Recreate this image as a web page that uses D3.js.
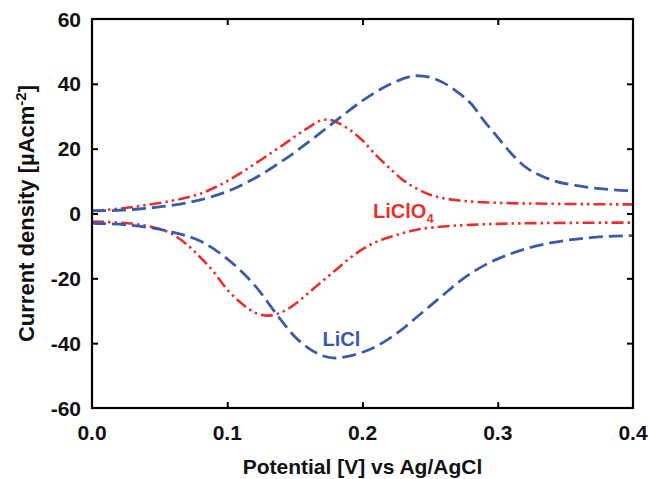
<!DOCTYPE html>
<html>
<head>
<meta charset="utf-8">
<script src="https://cdn.jsdelivr.net/npm/d3@7"></script>
<style>
  html, body { margin: 0; padding: 0; background: #fff; }
  svg { display: block; font-family: "Liberation Sans", Arial, sans-serif; }
</style>
</head>
<body>
<svg id="chart" width="648" height="479"></svg>
<script>
// Cyclic voltammograms: potential (V vs Ag/AgCl) and current density (µA cm^-2)
const xTicks = [0.0, 0.1, 0.2, 0.3, 0.4];
const yTicks = [-60, -40, -20, 0, 20, 40, 60];

// LiCl, anodic (upper) branch
const liclUpperV = [0.00, 0.02, 0.04, 0.06, 0.08, 0.10, 0.12, 0.14, 0.16, 0.18, 0.20, 0.22, 0.24, 0.25, 0.26, 0.27, 0.28, 0.29, 0.30, 0.31, 0.32, 0.33, 0.34, 0.36, 0.38, 0.40];
const liclUpperI = [0.8, 1.0, 1.6, 2.6, 4.2, 6.8, 10.8, 16.0, 22.0, 28.5, 34.8, 39.8, 42.5, 42.0, 40.3, 37.5, 34.0, 28.5, 23.5, 18.5, 14.5, 12.0, 10.3, 8.5, 7.5, 7.0];
// LiCl, cathodic (lower) branch
const liclLowerV = [0.00, 0.02, 0.04, 0.06, 0.08, 0.10, 0.12, 0.14, 0.15, 0.16, 0.17, 0.18, 0.19, 0.20, 0.21, 0.22, 0.23, 0.24, 0.25, 0.26, 0.27, 0.28, 0.29, 0.30, 0.32, 0.34, 0.36, 0.38, 0.40];
const liclLowerI = [-3.0, -3.3, -4.2, -5.8, -8.5, -14.0, -22.0, -33.0, -38.0, -41.5, -43.8, -44.6, -44.0, -42.8, -41.0, -38.5, -35.5, -32.0, -28.5, -25.0, -21.5, -18.5, -16.0, -14.0, -11.0, -9.0, -7.8, -7.1, -6.8];

// LiClO4, anodic (upper) branch
const perUpperV = [0.00, 0.02, 0.04, 0.06, 0.08, 0.10, 0.12, 0.14, 0.16, 0.17, 0.175, 0.18, 0.19, 0.20, 0.21, 0.22, 0.23, 0.24, 0.25, 0.26, 0.27, 0.28, 0.30, 0.34, 0.40];
const perUpperI = [0.8, 1.5, 2.6, 4.0, 6.1, 10.0, 15.2, 20.8, 26.5, 28.8, 29.0, 28.3, 26.0, 22.5, 18.0, 14.0, 10.3, 7.7, 5.8, 4.7, 4.1, 3.7, 3.3, 3.0, 2.8];
// LiClO4, cathodic (lower) branch
const perLowerV = [0.00, 0.02, 0.04, 0.06, 0.07, 0.08, 0.09, 0.10, 0.11, 0.12, 0.13, 0.14, 0.15, 0.16, 0.17, 0.18, 0.19, 0.20, 0.21, 0.22, 0.23, 0.24, 0.26, 0.28, 0.30, 0.35, 0.40];
const perLowerI = [-2.5, -2.8, -3.8, -6.5, -9.5, -13.5, -18.0, -23.5, -27.5, -30.5, -31.5, -30.5, -28.0, -24.5, -21.0, -17.5, -14.0, -11.0, -8.8, -7.3, -6.0, -5.0, -4.0, -3.5, -3.2, -2.9, -2.8];

const seriesNames = ["LiClO", "LiCl"];
const seriesColors = ["#e8312c", "#3a5ba8"];

const svg = d3.select("#chart");
const margin = { left: 92, right: 15, top: 19, bottom: 71 };
const W = 648, H = 479;

const x = d3.scaleLinear().domain([0, 0.4]).range([margin.left, W - margin.right]);
const y = d3.scaleLinear().domain([-60, 60]).range([H - margin.bottom, margin.top]);

const zip = (vs, is) => vs.map((v, k) => [v, is[k]]);
const line = d3.line().x(d => x(d[0])).y(d => y(d[1])).curve(d3.curveMonotoneX);

svg.append("clipPath").attr("id", "plot-area")
  .append("rect")
  .attr("x", x(0)).attr("y", y(60))
  .attr("width", x(0.4) - x(0)).attr("height", y(-60) - y(60));

const curves = svg.append("g").attr("clip-path", "url(#plot-area)");

// LiClO4: dash-dot-dot
[zip(perUpperV, perUpperI), zip(perLowerV, perLowerI)].forEach(d => {
  curves.append("path").datum(d)
    .attr("d", line)
    .attr("fill", "none")
    .attr("stroke", seriesColors[0])
    .attr("stroke-width", 2.6)
    .attr("stroke-dasharray", "12,4,2.5,4,2.5,4");
});
// LiCl: dashed
[zip(liclUpperV, liclUpperI), zip(liclLowerV, liclLowerI)].forEach(d => {
  curves.append("path").datum(d)
    .attr("d", line)
    .attr("fill", "none")
    .attr("stroke", seriesColors[1])
    .attr("stroke-width", 2.8)
    .attr("stroke-dasharray", "14,6");
});

// Frame with inward ticks on all four sides
const tickLen = 6;
const innerX = xTicks.filter(t => t > 0 && t < 0.4);
const innerY = yTicks.filter(t => t > -60 && t < 60);

const bottomAxis = d3.axisBottom(x).tickValues(innerX).tickSize(-tickLen).tickFormat("");
const topAxis = d3.axisTop(x).tickValues(innerX).tickSize(-tickLen).tickFormat("");
const leftAxis = d3.axisLeft(y).tickValues(innerY).tickSize(-tickLen).tickFormat("");
const rightAxis = d3.axisRight(y).tickValues(innerY).tickSize(-tickLen).tickFormat("");

function styleAxis(g) {
  g.select(".domain").remove();
  g.selectAll(".tick line").attr("stroke", "#000").attr("stroke-width", 2);
}
svg.append("g").attr("transform", `translate(0,${y(-60)})`).call(bottomAxis).call(styleAxis);
svg.append("g").attr("transform", `translate(0,${y(60)})`).call(topAxis).call(styleAxis);
svg.append("g").attr("transform", `translate(${x(0)},0)`).call(leftAxis).call(styleAxis);
svg.append("g").attr("transform", `translate(${x(0.4)},0)`).call(rightAxis).call(styleAxis);

svg.append("rect")
  .attr("x", x(0)).attr("y", y(60))
  .attr("width", x(0.4) - x(0)).attr("height", y(-60) - y(60))
  .attr("fill", "none").attr("stroke", "#000").attr("stroke-width", 2.2);

// Tick labels
svg.append("g").selectAll("text").data(xTicks).join("text")
  .attr("x", d => x(d)).attr("y", y(-60) + 32)
  .attr("text-anchor", "middle")
  .attr("font-size", 21).attr("font-weight", "bold").attr("fill", "#111")
  .text(d => d3.format(".1f")(d));

svg.append("g").selectAll("text").data(yTicks).join("text")
  .attr("x", x(0) - 11).attr("y", d => y(d))
  .attr("dy", "0.36em")
  .attr("text-anchor", "end")
  .attr("font-size", 21).attr("font-weight", "bold").attr("fill", "#111")
  .text(d => d);

// Axis titles
svg.append("text")
  .attr("x", (x(0) + x(0.4)) / 2).attr("y", 474)
  .attr("text-anchor", "middle")
  .attr("font-size", 21).attr("font-weight", "bold").attr("fill", "#111")
  .text("Potential [V] vs Ag/AgCl");

const yTitle = svg.append("text")
  .attr("transform", `translate(34,${(y(60) + y(-60)) / 2}) rotate(-90)`)
  .attr("text-anchor", "middle")
  .attr("font-size", 22).attr("font-weight", "bold").attr("fill", "#111");
yTitle.append("tspan").text("Current density [µAcm");
yTitle.append("tspan").attr("font-size", 15).attr("dy", "-0.55em").text("-2");
yTitle.append("tspan").attr("dy", "0.37em").text("]");

// Series labels
const perLabel = svg.append("text")
  .attr("x", x(0.2078)).attr("y", y(-1.5))
  .attr("font-size", 20).attr("font-weight", "bold").attr("fill", seriesColors[0]);
perLabel.append("tspan").text(seriesNames[0]);
perLabel.append("tspan").attr("font-size", 13).attr("dy", "0.35em").text("4");

svg.append("text")
  .attr("x", x(0.1705)).attr("y", y(-41))
  .attr("font-size", 20).attr("font-weight", "bold").attr("fill", seriesColors[1])
  .text(seriesNames[1]);
</script>
</body>
</html>
